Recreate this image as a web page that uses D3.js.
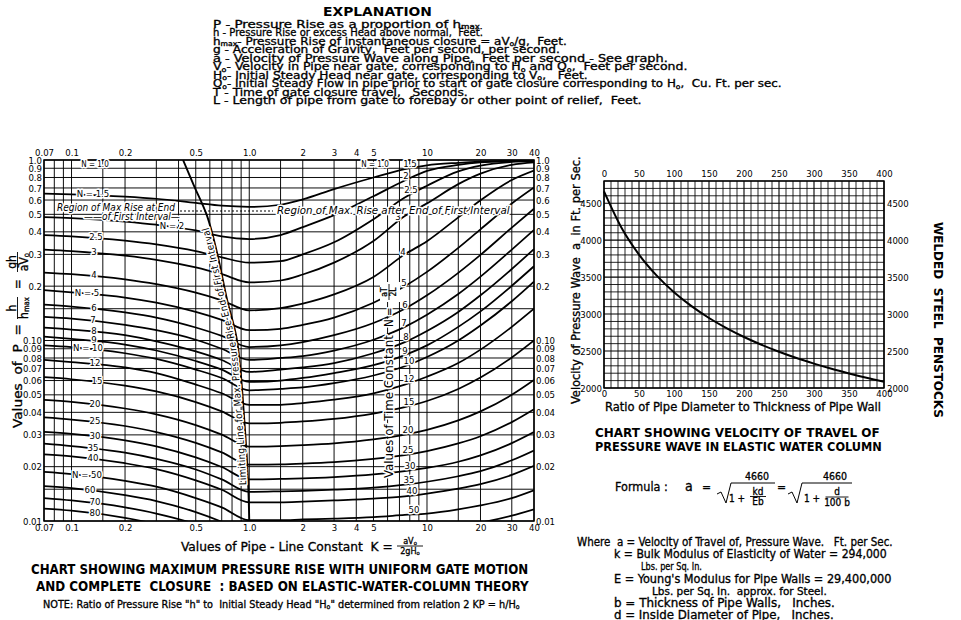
<!DOCTYPE html>
<html>
<head>
<meta charset="utf-8">
<script src="https://cdn.jsdelivr.net/npm/d3@7/dist/d3.min.js"></script>
<style>
  body { margin: 0; background: #fff; }
  text { font-family: "DejaVu Sans Condensed", "DejaVu Sans", sans-serif; fill: #000; white-space: pre; }
  text.narrow { font-family: "Liberation Sans Narrow", "DejaVu Sans Condensed", "DejaVu Sans", sans-serif; }
  .ink { stroke: #000; stroke-width: 0.3px; }
  .halo { paint-order: stroke; stroke: #fff; stroke-width: 3px; stroke-linejoin: round; }
</style>
</head>
<body>
<svg id="chart" width="961" height="620"></svg>
<script>
// ---- pressure rise chart: P at these K values ----
const kValues = [0.07, 0.1, 0.2, 0.3, 0.5, 0.7, 1, 1.5, 2, 3, 5, 7.5, 10, 15, 20, 30, 40];

const pN1_5 = [0.652, 0.646, 0.627, 0.610, 0.578, 0.558, 0.550, 0.565, 0.605, 0.690, 0.800, 0.890, 0.935, 0.965, 0.980, 0.990, 0.995];
const pN2   = [0.483, 0.477, 0.456, 0.438, 0.407, 0.377, 0.365, 0.384, 0.425, 0.495, 0.630, 0.770, 0.870, 0.940, 0.970, 0.985, 0.990];
const pN2_5 = [0.384, 0.378, 0.358, 0.341, 0.313, 0.289, 0.270, 0.275, 0.300, 0.350, 0.470, 0.620, 0.720, 0.865, 0.930, 0.975, 0.985];
const pN3   = [0.319, 0.313, 0.295, 0.280, 0.254, 0.233, 0.210, 0.215, 0.232, 0.270, 0.356, 0.490, 0.575, 0.735, 0.840, 0.940, 0.970];
const pN4   = [0.238, 0.233, 0.218, 0.205, 0.184, 0.167, 0.147, 0.151, 0.160, 0.180, 0.225, 0.300, 0.355, 0.481, 0.598, 0.775, 0.874];
const pN5   = [0.190, 0.185, 0.173, 0.162, 0.144, 0.130, 0.114, 0.116, 0.122, 0.134, 0.162, 0.200, 0.240, 0.326, 0.413, 0.574, 0.704];
const pN6   = [0.158, 0.154, 0.143, 0.134, 0.118, 0.106, 0.092, 0.094, 0.098, 0.107, 0.125, 0.150, 0.178, 0.237, 0.298, 0.422, 0.537];
const pN7   = [0.135, 0.132, 0.122, 0.114, 0.101, 0.090, 0.078, 0.080, 0.082, 0.088, 0.101, 0.119, 0.139, 0.181, 0.226, 0.319, 0.410];
const pN8   = [0.118, 0.115, 0.107, 0.099, 0.087, 0.078, 0.067, 0.069, 0.071, 0.075, 0.085, 0.098, 0.113, 0.144, 0.178, 0.249, 0.321];
const pN9   = [0.105, 0.102, 0.095, 0.088, 0.077, 0.069, 0.059, 0.060, 0.062, 0.066, 0.073, 0.083, 0.094, 0.119, 0.145, 0.201, 0.258];
const pN10  = [0.094, 0.092, 0.085, 0.079, 0.069, 0.062, 0.053, 0.054, 0.055, 0.058, 0.064, 0.072, 0.081, 0.100, 0.121, 0.165, 0.212];
const pN12  = [0.078, 0.076, 0.071, 0.066, 0.057, 0.051, 0.044, 0.044, 0.045, 0.047, 0.051, 0.057, 0.063, 0.075, 0.089, 0.119, 0.150];
const pN15  = [0.0626, 0.0610, 0.0562, 0.0522, 0.0456, 0.0405, 0.0347, 0.0350, 0.0356, 0.0368, 0.0394, 0.0427, 0.0462, 0.0539, 0.0623, 0.0805, 0.100];
const pN20  = [0.0469, 0.0457, 0.0420, 0.0390, 0.0340, 0.0301, 0.0258, 0.0260, 0.0263, 0.0269, 0.0283, 0.0301, 0.0320, 0.0361, 0.0405, 0.0500, 0.0604];
const pN25  = [0.0375, 0.0365, 0.0336, 0.0311, 0.0271, 0.0240, 0.0205, 0.0206, 0.0208, 0.0212, 0.0221, 0.0232, 0.0244, 0.0269, 0.0295, 0.0353, 0.0416];
const pN30  = [0.0312, 0.0304, 0.0280, 0.0259, 0.0225, 0.0199, 0.0170, 0.0171, 0.0172, 0.0175, 0.0181, 0.0189, 0.0197, 0.0213, 0.0231, 0.0270, 0.0311];
const pN35  = [0.0268, 0.0260, 0.0239, 0.0221, 0.0193, 0.0170, 0.0145, 0.0146, 0.0147, 0.0149, 0.0153, 0.0159, 0.0165, 0.0177, 0.0189, 0.0217, 0.0246];
const pN40  = [0.0234, 0.0228, 0.0209, 0.0194, 0.0168, 0.0149, 0.0127, 0.0127, 0.0128, 0.0130, 0.0133, 0.0137, 0.0142, 0.0151, 0.0160, 0.0180, 0.0202];
const pN50  = [0.0187, 0.0182, 0.0167, 0.0155, 0.0134, 0.0119, 0.0101, 0.0101, 0.0102, 0.0103, 0.0105, 0.0108, 0.0110, 0.0116, 0.0122, 0.0134, 0.0148];
const pN60  = [0.0156, 0.0152, 0.0139, 0.0129, 0.0112, 0.0099, 0.0084, null, null, null, null, null, null, 0.0094, 0.0098, 0.0107, 0.0116];
const pN70  = [0.0134, 0.0130, 0.0119, 0.0110, 0.0096, 0.0085, null, null, null, null, null, null, null, null, null, null, null];
const pN80  = [0.0117, 0.0114, 0.0104, 0.0096, 0.0084, null, null, null, null, null, null, null, null, null, null, null, null];

// limiting line for max pressure rise, end of first interval
const limitK = [0.424, 0.489, 0.579, 0.659, 0.750, 0.853, 0.946, 0.984, 1.0];
const limitP = [1.0, 0.72, 0.49, 0.305, 0.168, 0.100, 0.032, 0.0168, 0.01];

const kTicks = [0.07, 0.1, 0.2, 0.5, 1, 2, 3, 4, 5, 10, 20, 30, 40];
const kTickLabels = ["0.07", "0.1", "0.2", "0.5", "1.0", "2", "3", "4", "5", "10", "20", "30", "40"];
const pTicks = [1, 0.9, 0.8, 0.7, 0.6, 0.5, 0.4, 0.3, 0.2, 0.1, 0.09, 0.08, 0.07, 0.06, 0.05, 0.04, 0.03, 0.02, 0.01];
const pTickLabels = ["1.0", "0.9", "0.8", "0.7", "0.6", "0.5", "0.4", "0.3", "0.2", "0.10", "0.09", "0.08", "0.07", "0.06", "0.05", "0.04", "0.03", "0.02", "0.01"];
const kGrid = [0.07, 0.08, 0.09, 0.1, 0.15, 0.2, 0.3, 0.4, 0.5, 0.6, 0.7, 0.8, 0.9, 1, 1.5, 2, 3, 4, 5, 6, 7, 8, 9, 10, 15, 20, 30, 40];
const pGrid = [1, 0.9, 0.8, 0.7, 0.6, 0.5, 0.4, 0.3, 0.2, 0.15, 0.1, 0.09, 0.08, 0.07, 0.06, 0.05, 0.04, 0.03, 0.02, 0.015, 0.01];

// ---- wave velocity chart ----
const ratioDT = [0, 25, 50, 75, 100, 125, 150, 175, 200, 225, 250, 275, 300, 325, 350, 375, 400];
const velocityA = [4660, 4168, 3805, 3523, 3295, 3107, 2947, 2810, 2690, 2585, 2491, 2406, 2330, 2260, 2197, 2138, 2084];
const ratioTicks = [0, 50, 100, 150, 200, 250, 300, 350, 400];
const velocityTicks = [2000, 2500, 3000, 3500, 4000, 4500];

const curveSet = [
  ["1.5", pN1_5], ["2", pN2], ["2.5", pN2_5], ["3", pN3], ["4", pN4], ["5", pN5], ["6", pN6],
  ["7", pN7], ["8", pN8], ["9", pN9], ["10", pN10], ["12", pN12], ["15", pN15], ["20", pN20],
  ["25", pN25], ["30", pN30], ["35", pN35], ["40", pN40], ["50", pN50], ["60", pN60], ["70", pN70], ["80", pN80]
];
const byN = new Map(curveSet);

const svg = d3.select("#chart");
svg.append("rect").attr("width", 961).attr("height", 620).attr("fill", "#fff");

// text with _{sub} parts; len fits it to a given width
function label(parent, x, y, str, o = {}) {
  const size = o.size || 10;
  const t = parent.append("text").attr("x", x).attr("y", y)
    .attr("font-size", size)
    .attr("text-anchor", o.anchor || "start");
  if (o.weight) t.attr("font-weight", o.weight);
  if (o.italic) t.attr("font-style", "italic");
  if (o.halo) t.classed("halo", true);
  else if (!o.weight) t.classed("ink", true);
  if (o.len) t.classed("narrow", true);
  const sh = size * 0.14;
  let down = false;
  str.split(/(_\{[^}]*\})/).forEach(p => {
    if (!p) return;
    if (p.startsWith("_{")) {
      t.append("tspan").attr("font-size", size * 0.64).attr("dy", down ? 0 : sh).text(p.slice(2, -1));
      down = true;
    } else {
      t.append("tspan").attr("dy", down ? -sh : 0).text(p);
      down = false;
    }
  });
  if (o.len) {
    const w = t.node().getComputedTextLength();
    if (w > 0) t.attr("transform", `translate(${x},0) scale(${o.len / w},1) translate(${-x},0)`);
  }
  return t;
}

function frac(parent, cx, yBar, num, den, size, w) {
  label(parent, cx, yBar - 2, num, {size: size, anchor: "middle"});
  parent.append("line").attr("x1", cx - w / 2).attr("x2", cx + w / 2)
    .attr("y1", yBar).attr("y2", yBar).attr("stroke", "#000").attr("stroke-width", 0.9);
  label(parent, cx, yBar + size * 0.85, den, {size: size, anchor: "middle"});
}

// ---- explanation ----
const gE = svg.append("g");
label(gE, 323, 16, "EXPLANATION", {size: 13, weight: "bold", len: 109});
const explLines = [
  "P - Pressure Rise as a proportion of h_{max.}",
  "h - Pressure Rise or excess Head above normal,  Feet.",
  "h_{max}- Pressure Rise of instantaneous closure = aV_{o}/g,  Feet.",
  "g - Acceleration of Gravity,  Feet per second, per second.",
  "a - Velocity of Pressure Wave along Pipe,  Feet per second - See graph.",
  "V_{o}- Velocity in Pipe near gate, corresponding to H_{o} and Q_{o},  Feet per second.",
  "H_{o}- Initial Steady Head near gate, corresponding to V_{o},   Feet.",
  "Q_{o}- Initial Steady Flow in pipe prior to start of gate closure corresponding to H_{o},  Cu. Ft. per sec.",
  "T - Time of gate closure travel,   Seconds.",
  "L - Length of pipe from gate to forebay or other point of relief,  Feet."
];
const explEnds = [483, 483, 567, 560, 668, 688, 588, 782, 468, 642];
explLines.forEach((s, i) => label(gE, 213, 28 + 8.5 * i, s, {size: 10.5, len: explEnds[i] - 213}));

// ---- left chart ----
const x = d3.scaleLog().domain([0.07, 40]).range([44, 534]);
const y = d3.scaleLog().domain([0.01, 1]).range([521, 160]);
const gL = svg.append("g");

svg.append("defs").append("clipPath").attr("id", "clipL")
  .append("rect").attr("x", 44).attr("y", 160).attr("width", 490).attr("height", 361);

gL.append("g").selectAll("line").data(kGrid).join("line")
  .attr("x1", d => x(d)).attr("x2", d => x(d)).attr("y1", 160).attr("y2", 521)
  .attr("stroke", "#000").attr("stroke-width", 0.95);
gL.append("g").selectAll("line").data(pGrid).join("line")
  .attr("x1", 44).attr("x2", 534).attr("y1", d => y(d)).attr("y2", d => y(d))
  .attr("stroke", "#000").attr("stroke-width", 0.95);
gL.append("rect").attr("x", 44).attr("y", 160).attr("width", 490).attr("height", 361)
  .attr("fill", "none").attr("stroke", "#000").attr("stroke-width", 1.5);

const nLine = d3.line().defined(d => d[1] != null)
  .x(d => x(d[0])).y(d => y(d[1])).curve(d3.curveMonotoneX);
const gCurves = gL.append("g").attr("clip-path", "url(#clipL)");
curveSet.forEach(([n, p]) => {
  gCurves.append("path").attr("d", nLine(kValues.map((k, i) => [k, p[i]])))
    .attr("fill", "none").attr("stroke", "#000").attr("stroke-width", 1.75);
});

const limitPts = limitK.map((k, i) => [x(k), y(limitP[i])]);
const limitLine = d3.line().curve(d3.curveCatmullRom);
gCurves.append("path").attr("d", limitLine(limitPts))
  .attr("fill", "none").attr("stroke", "#000").attr("stroke-width", 1.9);
svg.append("defs").append("path").attr("id", "limitText").attr("d", limitLine(limitPts.slice().reverse()));

// axes
function styleAxis(g) {
  g.select(".domain").remove();
  g.attr("font-family", null).attr("font-size", 9.5);
}
gL.append("g").attr("transform", "translate(0,160)")
  .call(d3.axisTop(x).tickValues(kTicks).tickFormat((d, i) => kTickLabels[i]).tickSize(0).tickPadding(4)).call(styleAxis);
gL.append("g").attr("transform", "translate(0,521)")
  .call(d3.axisBottom(x).tickValues(kTicks).tickFormat((d, i) => kTickLabels[i]).tickSize(0).tickPadding(3)).call(styleAxis);
gL.append("g").attr("transform", "translate(44,0)")
  .call(d3.axisLeft(y).tickValues(pTicks).tickFormat((d, i) => pTickLabels[i]).tickSize(0).tickPadding(2)).call(styleAxis);
gL.append("g").attr("transform", "translate(534,0)")
  .call(d3.axisRight(y).tickValues(pTicks).tickFormat((d, i) => pTickLabels[i]).tickSize(0).tickPadding(2)).call(styleAxis);

// curve labels
function pAt(p, k) {
  for (let i = 0; i < kValues.length - 1; i++) {
    if (k >= kValues[i] && k <= kValues[i + 1] && p[i] != null && p[i + 1] != null) {
      const t = Math.log(k / kValues[i]) / Math.log(kValues[i + 1] / kValues[i]);
      return Math.exp(Math.log(p[i]) * (1 - t) + Math.log(p[i + 1]) * t);
    }
  }
  return null;
}
const gLab = gL.append("g");
const leftSpots = [["1.5", "N = 1.5", 93], ["2", "N = 2", 172], ["2.5", "2.5", 96], ["3", "3", 94], ["4", "4", 94],
  ["5", "N = 5", 87], ["6", "6", 94], ["7", "7", 93], ["8", "8", 94], ["9", "9", 94], ["10", "N = 10", 88],
  ["12", "12", 95], ["15", "15", 97], ["20", "20", 95], ["25", "25", 95], ["30", "30", 95], ["35", "35", 93],
  ["40", "40", 93], ["50", "N = 50", 87], ["60", "60", 90], ["70", "70", 95], ["80", "80", 95]];
leftSpots.forEach(([n, txt, cx]) => {
  const yy = y(pAt(byN.get(n), x.invert(cx)));
  label(gLab, cx, yy + 2, txt, {size: 9.5, anchor: "middle", halo: true});
});
const rightSpots = [["1.5", 410], ["2", 406], ["2.5", 411], ["3", 398], ["4", 403], ["5", 404], ["6", 405],
  ["7", 404], ["8", 406], ["9", 405], ["10", 409], ["12", 409], ["15", 409], ["20", 408], ["25", 408],
  ["30", 410], ["35", 409], ["40", 412], ["50", 414]];
rightSpots.forEach(([n, cx]) => {
  const yy = y(pAt(byN.get(n), x.invert(cx)));
  label(gLab, cx, yy - 1, n, {size: 9.5, anchor: "middle", halo: true});
});
label(gLab, 95, 167, "N = 1.0", {size: 8, anchor: "middle", halo: true});
label(gLab, 375, 167, "N = 1.0", {size: 8, anchor: "middle", halo: true});

// region notes
gLab.append("line").attr("x1", 180).attr("x2", 273).attr("y1", 211).attr("y2", 211)
  .attr("stroke", "#000").attr("stroke-width", 1).attr("stroke-dasharray", "2,2");
label(gLab, 57, 211, "Region of Max Rise at End", {size: 10.5, italic: true, halo: true, len: 118});
label(gLab, 84, 220, "——of First Interval—", {size: 10.5, italic: true, halo: true, len: 96});
label(gLab, 277, 214, "Region of Max. Rise after End of First Interval", {size: 10.5, italic: true, halo: true, len: 233});

gLab.append("text").attr("class", "halo").attr("font-size", 10).attr("dy", -2)
  .append("textPath").attr("href", "#limitText").attr("startOffset", 36)
  .attr("textLength", 262).attr("lengthAdjust", "spacing")
  .text("Limiting Line for Max. Pressure Rise-End of First Interval");

// time constant caption
const gT = gLab.append("g").attr("transform", "translate(393,478) rotate(-90)");
label(gT, 0, 0, "Values of Time Constant", {size: 11.5, halo: true, len: 143});
label(gT, 151, 0, "N =", {size: 11.5, halo: true});
gT.append("rect").attr("x", 176).attr("y", -13).attr("width", 20).attr("height", 20).attr("fill", "#fff");
frac(gT, 186, -4, "aT", "2L", 8.5, 16);

// axis titles
const gY = svg.append("g").attr("transform", "translate(22,428) rotate(-90)");
label(gY, 0, 0, "Values  of  P  =", {size: 13, len: 104});
frac(gY, 120, -4.5, "h", "h_{max}", 12, 22);
label(gY, 139, 0, "=", {size: 13});
frac(gY, 166, -4.5, "gh", "aV_{o}", 12, 20);

label(svg, 181, 551, "Values of Pipe - Line Constant  K =", {size: 13, len: 212});
frac(svg, 410, 546, "aV_{o}", "2gH_{o}", 9, 26);

label(svg, 31, 574, "CHART SHOWING MAXIMUM PRESSURE RISE WITH UNIFORM GATE MOTION", {size: 13.5, weight: "bold", len: 498});
label(svg, 36, 591, "AND COMPLETE  CLOSURE  : BASED ON ELASTIC-WATER-COLUMN THEORY", {size: 13.5, weight: "bold", len: 493});
label(svg, 43, 608, "NOTE: Ratio of Pressure Rise \"h\" to  Initial Steady Head \"H_{o}\" determined from relation 2 KP = h/H_{o}", {size: 10.5, len: 477});

// ---- right chart ----
const xr = d3.scaleLinear().domain([0, 400]).range([604, 884]);
const yr = d3.scaleLinear().domain([2000, 4800]).range([388, 181]);
const gR = svg.append("g");
gR.append("g").selectAll("line").data(d3.range(0, 401, 10)).join("line")
  .attr("x1", d => xr(d)).attr("x2", d => xr(d)).attr("y1", 181).attr("y2", 388)
  .attr("stroke", "#000").attr("stroke-width", d => d % 50 === 0 ? 1.1 : 0.85);
gR.append("g").selectAll("line").data(d3.range(2000, 4801, 100)).join("line")
  .attr("x1", 604).attr("x2", 884).attr("y1", d => yr(d)).attr("y2", d => yr(d))
  .attr("stroke", "#000").attr("stroke-width", d => d % 500 === 0 ? 1.1 : 0.85);
gR.append("rect").attr("x", 604).attr("y", 181).attr("width", 280).attr("height", 207)
  .attr("fill", "none").attr("stroke", "#000").attr("stroke-width", 1.4);
gR.append("path")
  .attr("d", d3.line().x(d => xr(d[0])).y(d => yr(d[1])).curve(d3.curveMonotoneX)(ratioDT.map((r, i) => [r, velocityA[i]])))
  .attr("fill", "none").attr("stroke", "#000").attr("stroke-width", 2);

gR.append("g").attr("transform", "translate(0,181)")
  .call(d3.axisTop(xr).tickValues(ratioTicks).tickFormat(d3.format("d")).tickSize(0).tickPadding(4)).call(styleAxis);
gR.append("g").attr("transform", "translate(0,388)")
  .call(d3.axisBottom(xr).tickValues(ratioTicks).tickFormat(d3.format("d")).tickSize(0).tickPadding(2)).call(styleAxis);
gR.append("g").attr("transform", "translate(604,0)")
  .call(d3.axisLeft(yr).tickValues(velocityTicks).tickFormat(d3.format("d")).tickSize(0).tickPadding(2)).call(styleAxis);
gR.append("g").attr("transform", "translate(884,0)")
  .call(d3.axisRight(yr).tickValues(velocityTicks).tickFormat(d3.format("d")).tickSize(0).tickPadding(3)).call(styleAxis);

const gRY = svg.append("g").attr("transform", "translate(580,404) rotate(-90)");
label(gRY, 0, 0, "Velocity of Pressure Wave  a  in Ft. per Sec.", {size: 12, len: 248});
label(svg, 605, 411, "Ratio of Pipe Diameter to Thickness of Pipe Wall", {size: 12, len: 276});

const gW = svg.append("g").attr("transform", "translate(934,222) rotate(90)");
label(gW, 0, 0, "WELDED  STEEL  PENSTOCKS", {size: 13, weight: "bold", len: 196});

label(svg, 595, 437, "CHART SHOWING VELOCITY OF TRAVEL OF", {size: 13, weight: "bold", len: 285});
label(svg, 595, 451, "PRESSURE WAVE IN ELASTIC WATER COLUMN", {size: 13, weight: "bold", len: 287});

// formula
const gF = svg.append("g");
label(gF, 615, 491, "Formula :", {size: 12.5});
label(gF, 685, 491, "a", {size: 14});
label(gF, 702, 491, "=", {size: 12});
gF.append("path").attr("d", "M717,494 L721,492 L726,503 L731,483 L775,483")
  .attr("fill", "none").attr("stroke", "#000").attr("stroke-width", 1);
label(gF, 757, 480, "4660", {size: 10.5, anchor: "middle"});
label(gF, 729, 502, "1 +", {size: 10});
frac(gF, 758, 496.5, "kd", "Eb", 10, 16);
label(gF, 777, 491, "=", {size: 12});
gF.append("path").attr("d", "M788,494 L792,492 L797,503 L802,483 L852,483")
  .attr("fill", "none").attr("stroke", "#000").attr("stroke-width", 1);
label(gF, 835, 480, "4660", {size: 10.5, anchor: "middle"});
label(gF, 804, 502, "1 +", {size: 10});
frac(gF, 837, 497, "d", "100 b", 10, 23);

const gD = svg.append("g");
label(gD, 577, 546, "Where  a = Velocity of Travel of, Pressure Wave.   Ft. per Sec.", {size: 11.5, len: 316});
label(gD, 614, 558, "k = Bulk Modulus of Elasticity of Water = 294,000", {size: 11.5, len: 273});
label(gD, 641, 570, "Lbs. per Sq. In.", {size: 10.5, len: 61});
label(gD, 614, 583, "E = Young's Modulus for Pipe Walls = 29,400,000", {size: 11.5, len: 278});
label(gD, 652, 595, "Lbs. per Sq. In.  approx. for Steel.", {size: 10.5, len: 175});
label(gD, 614, 607, "b = Thickness of Pipe Walls,   Inches.", {size: 11.5, len: 221});
label(gD, 614, 619, "d = Inside Diameter of Pipe,   Inches.", {size: 11.5, len: 220});
</script>
</body>
</html>
